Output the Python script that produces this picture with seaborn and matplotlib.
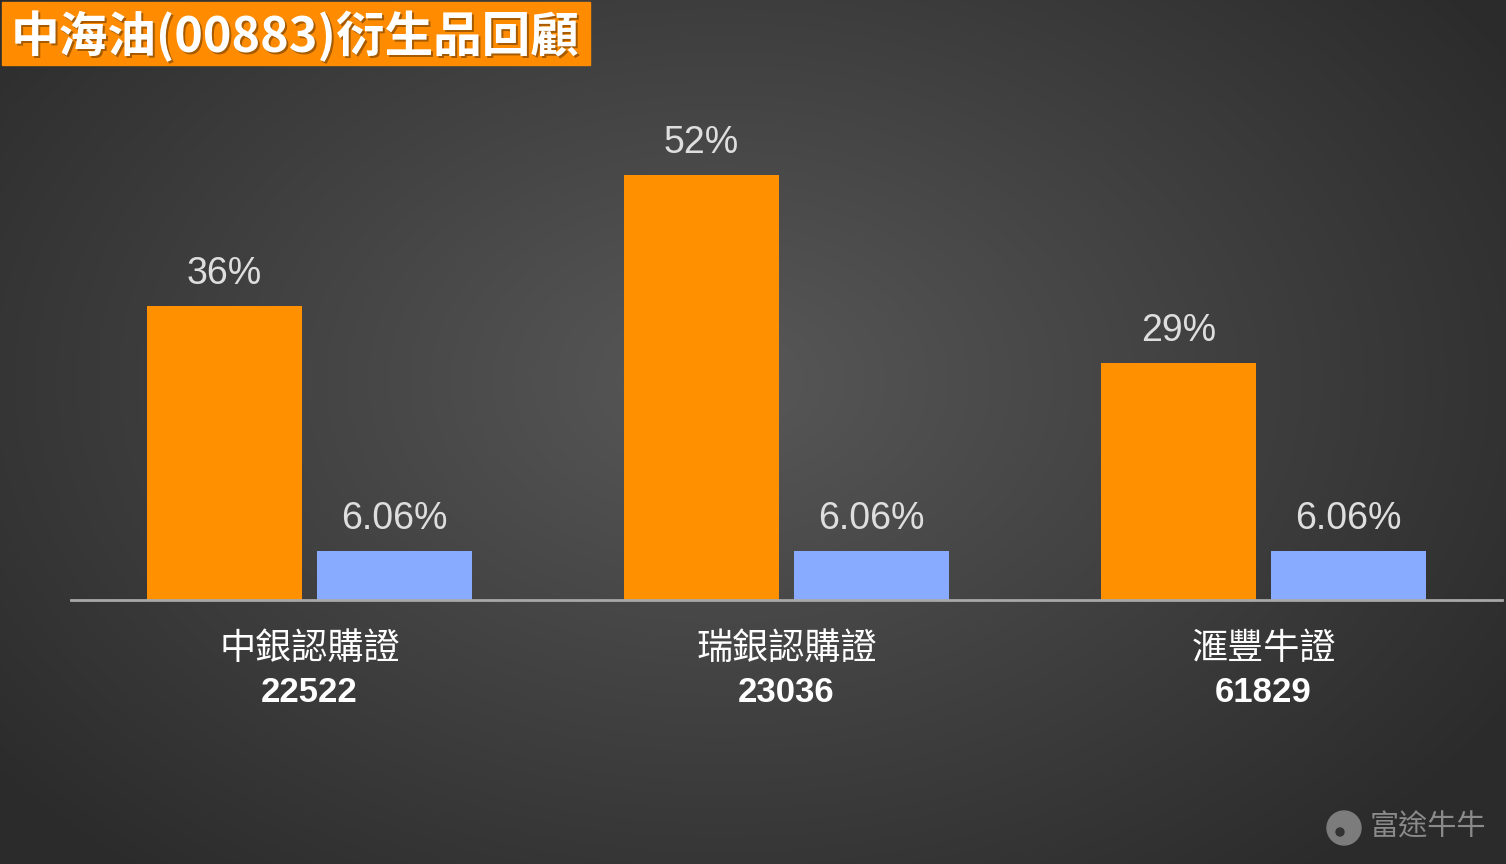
import numpy as np
import pandas as pd
import matplotlib.pyplot as plt
import matplotlib.transforms as mtransforms
from matplotlib.patches import Rectangle, Circle
import seaborn as sns

# chart data
products = ["中銀認購證", "瑞銀認購證", "滙豐牛證"]
codes = ["22522", "23036", "61829"]
series = ["衍生品", "正股"]
deriv_pct = [36, 52, 29]
stock_pct = [6.06, 6.06, 6.06]
deriv_labels = ["36%", "52%", "29%"]
stock_labels = ["6.06%", "6.06%", "6.06%"]

df = pd.DataFrame({
    "product": products * 2,
    "series": [series[0]] * 3 + [series[1]] * 3,
    "pct": deriv_pct + stock_pct,
})

sns.set_theme(style="white")
plt.rcParams['font.family'] = ['Liberation Sans', 'Noto Sans CJK TC', 'DejaVu Sans']

fig = plt.figure(figsize=(15.06, 8.64), dpi=100)

# radial gradient background
bg = fig.add_axes([0, 0, 1, 1], zorder=-5)
yy, xx = np.mgrid[0:864, 0:1506]
r = np.sqrt(((xx - 720) / 900.0) ** 2 + ((yy - 380) / 620.0) ** 2)
shade = np.clip(0.345 - 0.17 * r, 0.17, 0.345)
bg.imshow(np.dstack([shade] * 3), aspect="auto", extent=[0, 1506, 864, 0])
bg.set_xlim(0, 1506)
bg.set_ylim(864, 0)
bg.axis("off")

ax = fig.add_axes([71 / 1506, 264 / 864, 1431 / 1506, 490 / 864])
ax.patch.set_alpha(0)
sns.barplot(data=df, x="product", y="pct", hue="series",
            palette=["#FF9100", "#88ABFF"], width=0.713, gap=0.094,
            saturation=1, legend=False, ax=ax, zorder=3, linewidth=0)
ax.set_xlim(-0.5, 2.5)
ax.set_ylim(0, 60)
for s in ["top", "right", "left"]:
    ax.spines[s].set_visible(False)
ax.spines["bottom"].set_color("#a8a8a8")
ax.spines["bottom"].set_linewidth(2)
ax.spines["bottom"].set_zorder(4)
ax.set_xticks([])
ax.set_yticks([])
ax.set_xlabel("")
ax.set_ylabel("")

# value labels
for cont, labels in zip(ax.containers, [deriv_labels, stock_labels]):
    ax.bar_label(cont, labels=labels, padding=10, fontsize=27,
                 color="#dedede")

# category labels
trans = mtransforms.blended_transform_factory(ax.transData, ax.transAxes)
for i, (p, c) in enumerate(zip(products, codes)):
    ax.text(i, -0.099, p, transform=trans, ha="center", va="center",
            fontsize=26, color="white",
            family=['Noto Sans CJK TC', 'DejaVu Sans'])
    ax.text(i, -0.188, c, transform=trans, ha="center", va="center",
            fontsize=25, color="white", fontweight="bold")

# title box
title = "中海油(00883)衍生品回顧"
bg.add_patch(Rectangle((2, 2), 588, 63, color="#FF8C00", zorder=2))
bg.text(11, 36, title, ha="left", va="center",
        fontsize=35, color="#000000", alpha=0.35, fontweight="bold",
        family=['Noto Sans CJK TC'], zorder=3,
        transform=bg.transData + mtransforms.ScaledTranslation(2 / 100, -2 / 100, fig.dpi_scale_trans))
bg.text(11, 36, title, ha="left", va="center",
        fontsize=35, color="white", fontweight="bold",
        family=['Noto Sans CJK TC'], zorder=4)

# watermark
bg.add_patch(Circle((1344, 828), 17, color="#7c7c7c", zorder=2))
bg.add_patch(Circle((1340, 832), 4, color="#333333", zorder=3))
bg.text(1370, 828, "富途牛牛", ha="left", va="center", fontsize=21,
        color="#8a8a8a", family=['Noto Sans CJK TC'])

fig.savefig("out.png", dpi=100)
